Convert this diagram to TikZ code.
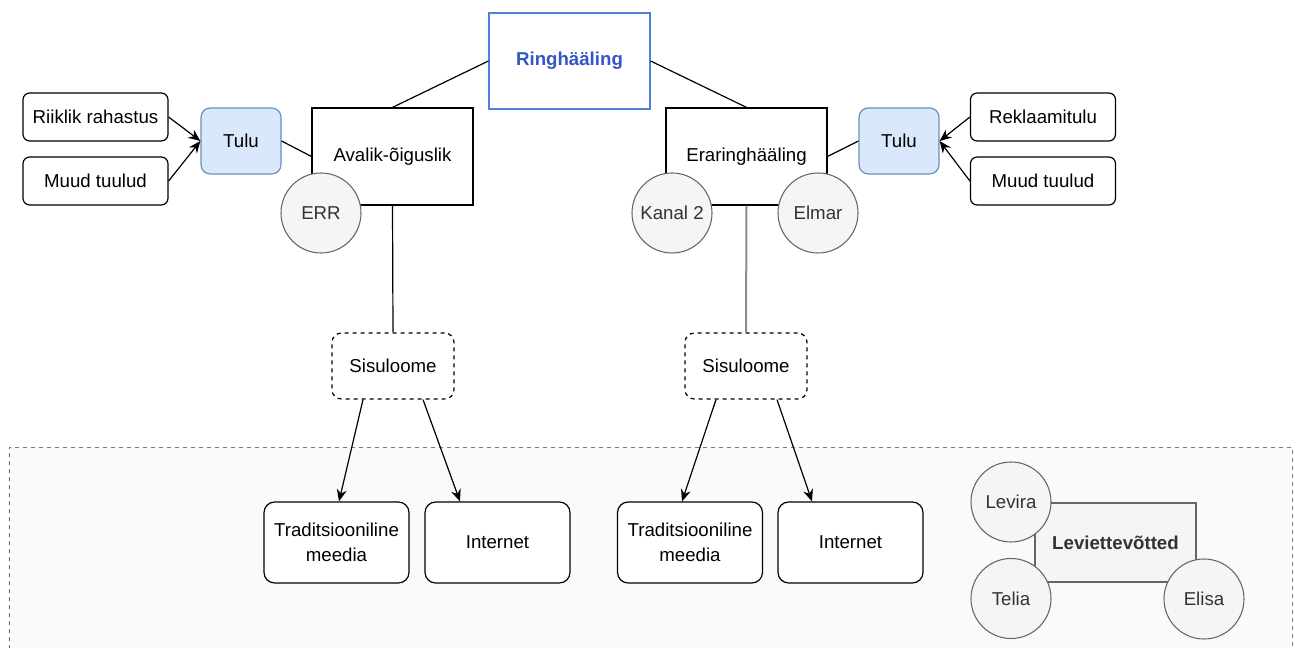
\documentclass[tikz,border=0pt]{standalone}
\usepackage{fontspec}
\setmainfont{Liberation Sans}
\usetikzlibrary{arrows.meta,calc}
\definecolor{blueS}{HTML}{4D7FDB}
\definecolor{blueT}{HTML}{3557C4}
\definecolor{tuluF}{HTML}{DAE8FC}
\definecolor{tuluS}{HTML}{6C8EBF}
\definecolor{grayF}{HTML}{F5F5F5}
\definecolor{grayS}{HTML}{666666}
\definecolor{grayT}{HTML}{333333}
\definecolor{areaF}{HTML}{FBFAF9}
\definecolor{areaS}{HTML}{7A7A7A}
\definecolor{vline}{HTML}{8C8C8C}
\begin{document}
\begin{tikzpicture}[x=0.75pt,y=-0.75pt,
  font=\fontsize{14}{18.5}\selectfont,
  every node/.style={inner sep=0pt, align=center},
  src/.style={draw, line width=0.9pt, rounded corners=5pt, fill=white, minimum width=108.75pt, minimum height=36pt},
  tulu/.style={draw=tuluS, fill=tuluF, line width=0.9pt, rounded corners=7pt, minimum width=60pt, minimum height=49.5pt},
  mainbox/.style={draw, line width=0.9pt, fill=white, minimum width=120.75pt, minimum height=72.75pt},
  org/.style={circle, draw=grayS, fill=grayF, text=grayT, line width=0.8pt, minimum size=60pt},
  sisu/.style={draw, dashed, line width=0.9pt, rounded corners=7pt, fill=white, minimum width=91.5pt, minimum height=49.5pt},
  media/.style={draw, line width=0.9pt, rounded corners=8pt, fill=white, minimum width=108.75pt, minimum height=60.75pt},
  conn/.style={line width=0.9pt},
  arr/.style={line width=0.9pt, -{Stealth[length=9pt,width=7.5pt,inset=3pt]}}
]
\useasboundingbox (0,0) rectangle (1293,648);
\clip (0,0) rectangle (1293,648);

% container
\node[draw=areaS, dashed, fill=areaF, line width=0.7pt, minimum width=962.25pt, minimum height=165pt, anchor=north west] (area) at (9,447) {};

% top
\node[draw=blueS, line width=0.9pt, fill=white, minimum width=120.75pt, minimum height=72pt, text=blueT, font=\fontsize{14}{18.5}\selectfont\bfseries] (ring) at (569.5,61) {Ringhääling};
\node[mainbox] (aval) at (392.5,156.5) {\raisebox{-2pt}{Avalik-õiguslik}};
\node[mainbox] (era) at (746.5,156.5) {\raisebox{-2pt}{Eraringhääling}};

\draw[conn] (ring.west) -- (aval.north);
\draw[conn] (ring.east) -- (era.north);

% left revenue
\node[tulu] (tuluL) at (241,141) {Tulu};
\node[src] (riik) at (95.5,117) {Riiklik rahastus};
\node[src] (muudL) at (95.5,181) {Muud tuulud};
\draw[arr] (riik.east) -- (tuluL.west);
\draw[arr] (muudL.east) -- (tuluL.west);
\draw[conn] (tuluL.east) -- (aval.west);

% right revenue
\node[tulu] (tuluR) at (899,141) {Tulu};
\node[src] (rekl) at (1043,117) {Reklaamitulu};
\node[src] (muudR) at (1043,181) {Muud tuulud};
\draw[arr] (rekl.west) -- (tuluR.east);
\draw[arr] (muudR.west) -- (tuluR.east);
\draw[conn] (tuluR.west) -- (era.east);

% content creation
\node[sisu] (sisL) at (393,366) {Sisuloome};
\node[sisu] (sisR) at (746,366) {Sisuloome};
\draw[conn] (aval.south) -- (sisL.north);
\draw[line width=1.5pt, vline] (era.south) -- (sisR.north);

% organisations
\node[org] (err) at (321,213) {ERR};
\node[org] (kanal) at (672,213) {Kanal 2};
\node[org] (elmar) at (818,213) {Elmar};

% media
\node[media] (tradL) at (336.5,542.5) {Traditsiooniline\\meedia};
\node[media] (netL) at (497.5,542.5) {Internet};
\node[media] (tradR) at (690,542.5) {Traditsiooniline\\meedia};
\node[media] (netR) at (850.5,542.5) {Internet};

\draw[arr] ($(sisL.south)+(-30,0)$) -- ($(tradL.north)+(2.5,0)$);
\draw[arr] ($(sisL.south)+(30,0)$) -- ($(netL.north)+(-37.5,0)$);
\draw[arr] ($(sisR.south)+(-30,0)$) -- ($(tradR.north)+(-8,0)$);
\draw[arr] ($(sisR.south)+(31,0)$) -- ($(netR.north)+(-38.5,0)$);

% distribution
\node[draw=grayS, fill=grayF, text=grayT, line width=0.8pt, minimum width=120.75pt, minimum height=59.25pt, font=\fontsize{14}{18.5}\selectfont\bfseries] (lev) at (1115.5,542.5) {Leviettevõtted};
\node[org] (levira) at (1011,502) {Levira};
\node[org] (telia) at (1011,598.5) {Telia};
\node[org] (elisa) at (1204,599) {Elisa};
\end{tikzpicture}
\end{document}
